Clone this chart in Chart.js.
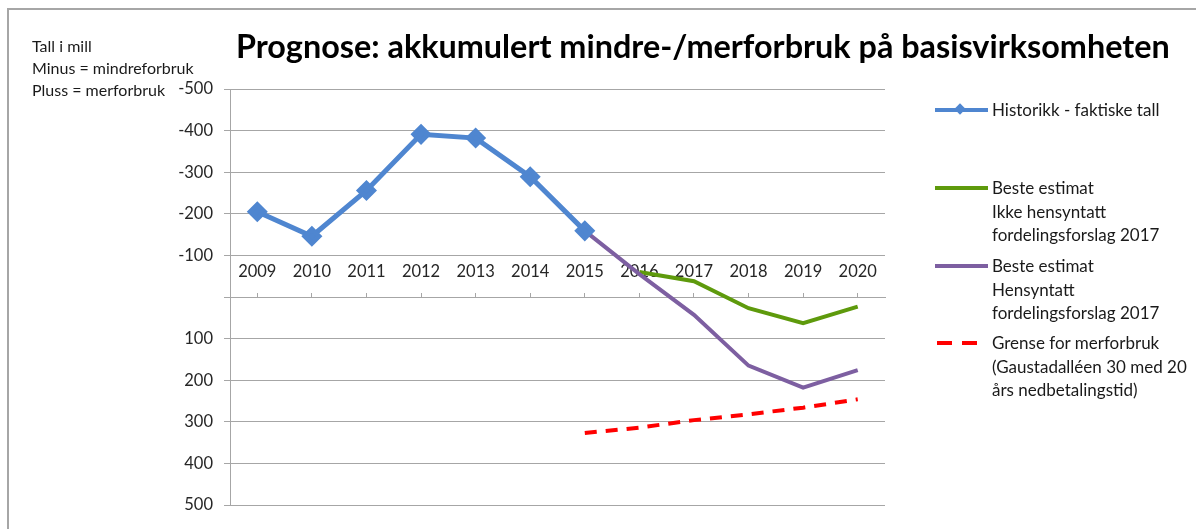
<!DOCTYPE html>
<html>
<head>
<meta charset="utf-8">
<script src="https://cdn.jsdelivr.net/npm/chart.js@4.4.1/dist/chart.umd.min.js"></script>
<style>
  body { margin: 0; background: #fff; font-family: Lato, 'Noto Sans', sans-serif; color: #1a1a1a; }
  #wrap { position: relative; width: 1196px; height: 529px; overflow: hidden; }
  #frame { position: absolute; left: 7px; top: 8px; width: 1300px; height: 600px;
           border-left: 2px solid #a6a6a6; border-top: 2px solid #a6a6a6; }
  #chart { position: absolute; left: 0; top: 0; }
  #title { position: absolute; left: 236px; top: 30px; font-weight: bold; white-space: nowrap; line-height: 1; color: #000; }
  #note { position: absolute; left: 32px; top: 35px; font-size: 16px; line-height: 22px; }
  .leg { position: absolute; left: 935px; font-size: 17px; line-height: 23.5px; white-space: nowrap; }
  .leg .txt { margin-left: 57px; }
  .sample { position: absolute; left: 0; top: 10px; width: 53px; height: 4px; }
  .diamond { position: absolute; left: 21px; top: -3px; width: 8px; height: 8px; transform: rotate(45deg); }
  .dash { position: absolute; top: 0; width: 15px; height: 4px; background: #ff0000; }
</style>
</head>
<body>
<div id="wrap">
  <div id="frame"></div>
  <canvas id="chart" width="1196" height="529"></canvas>
  <div id="title">Prognose: akkumulert mindre-/merforbruk på basisvirksomheten</div>
  <div id="note">Tall i mill<br>Minus = mindreforbruk<br>Pluss = merforbruk</div>
  <div id="legend"></div>
</div>
<script>
// categories
const years = ['2009', '2010', '2011', '2012', '2013', '2014', '2015', '2016', '2017', '2018', '2019', '2020'];

// series values (negative = mindreforbruk, positive = merforbruk)
const historikk = [-205, -146, -256, -391, -382, -289, -159, null, null, null, null, null];
const ikkeHensyntatt = [null, null, null, null, null, null, null, -60, -38, 27, 63, 23];
const hensyntatt = [null, null, null, null, null, null, -159, -55, 43, 165, 218, 176];
const grense = [null, null, null, null, null, null, 327, 314, 296, 282, 266, 246];

// y axis
const yMin = -500;
const yMax = 500;
const yStep = 100;

const legendItems = [
  { lines: ['Historikk - faktiske tall'], color: '#4f86d0', marker: true, top: 98 },
  { lines: ['Beste estimat', 'Ikke hensyntatt', 'fordelingsforslag 2017'], color: '#5e9a0c', top: 176 },
  { lines: ['Beste estimat', 'Hensyntatt', 'fordelingsforslag 2017'], color: '#7d5fa1', top: 254 },
  { lines: ['Grense for merforbruk', '(Gaustadalléen 30 med 20', 'års nedbetalingstid)'], color: '#ff0000', dashed: true, top: 331 }
];

// fit title to its width in the reference
const title = document.getElementById('title');
const mctx = document.createElement('canvas').getContext('2d');
mctx.font = 'bold 100px Lato';
const titleSize = 100 * 934 / mctx.measureText(title.textContent).width;
title.style.fontSize = titleSize.toFixed(2) + 'px';

// html legend
const legendDiv = document.getElementById('legend');
for (let item of legendItems) {
  let box = document.createElement('div');
  box.className = 'leg';
  box.style.top = item.top + 'px';
  let sample = document.createElement('div');
  sample.className = 'sample';
  if (item.dashed) {
    for (let x of [2, 27]) {
      let d = document.createElement('div');
      d.className = 'dash';
      d.style.left = x + 'px';
      sample.append(d);
    }
  } else {
    sample.style.background = item.color;
  }
  if (item.marker) {
    let dm = document.createElement('div');
    dm.className = 'diamond';
    dm.style.background = item.color;
    sample.append(dm);
  }
  box.append(sample);
  let txt = document.createElement('div');
  txt.className = 'txt';
  txt.innerHTML = item.lines.join('<br>');
  box.append(txt);
  legendDiv.append(box);
}

const tickFont = { family: 'Lato', size: 16.5 };
const gridColor = '#a6a6a6';

let chart = new Chart(document.getElementById('chart'), {
  type: 'line',
  data: {
    labels: years,
    datasets: [
      {
        label: 'Historikk - faktiske tall',
        data: historikk,
        borderColor: '#4f86d0',
        backgroundColor: '#4f86d0',
        borderWidth: 5,
        pointStyle: 'rectRot',
        pointRadius: 7,
        pointHoverRadius: 7,
        tension: 0,
        order: 1
      },
      {
        label: 'Beste estimat Hensyntatt fordelingsforslag 2017',
        data: hensyntatt,
        borderColor: '#7d5fa1',
        borderWidth: 4,
        pointRadius: 0,
        tension: 0,
        order: 2
      },
      {
        label: 'Beste estimat Ikke hensyntatt fordelingsforslag 2017',
        data: ikkeHensyntatt,
        borderColor: '#5e9a0c',
        borderWidth: 4,
        pointRadius: 0,
        tension: 0,
        order: 3
      },
      {
        label: 'Grense for merforbruk',
        data: grense,
        borderColor: '#ff0000',
        borderWidth: 4,
        borderDash: [12, 9],
        pointRadius: 0,
        tension: 0,
        order: 4
      }
    ]
  },
  options: {
    responsive: false,
    animation: false,
    layout: { padding: { left: 160, top: 89, right: 311, bottom: 24 } },
    plugins: {
      legend: { display: false },
      tooltip: { enabled: false }
    },
    scales: {
      x: {
        position: { y: 0 },
        offset: true,
        grid: { display: true, drawOnChartArea: false, offset: false, tickLength: -5, color: gridColor },
        border: { display: true, color: gridColor, width: 1 },
        ticks: { font: tickFont, color: '#262626', padding: -30, maxRotation: 0, autoSkip: false },
        afterFit: (scale) => { scale.height = 0; }
      },
      y: {
        reverse: true,
        min: yMin,
        max: yMax,
        grid: { color: gridColor, tickLength: 6 },
        border: { display: true, color: gridColor, width: 1 },
        ticks: {
          stepSize: yStep,
          font: tickFont,
          color: '#262626',
          padding: 11,
          callback: (v) => v === 0 ? '' : v
        },
        afterFit: (scale) => { scale.width = 70; }
      }
    }
  }
});
</script>
</body>
</html>
